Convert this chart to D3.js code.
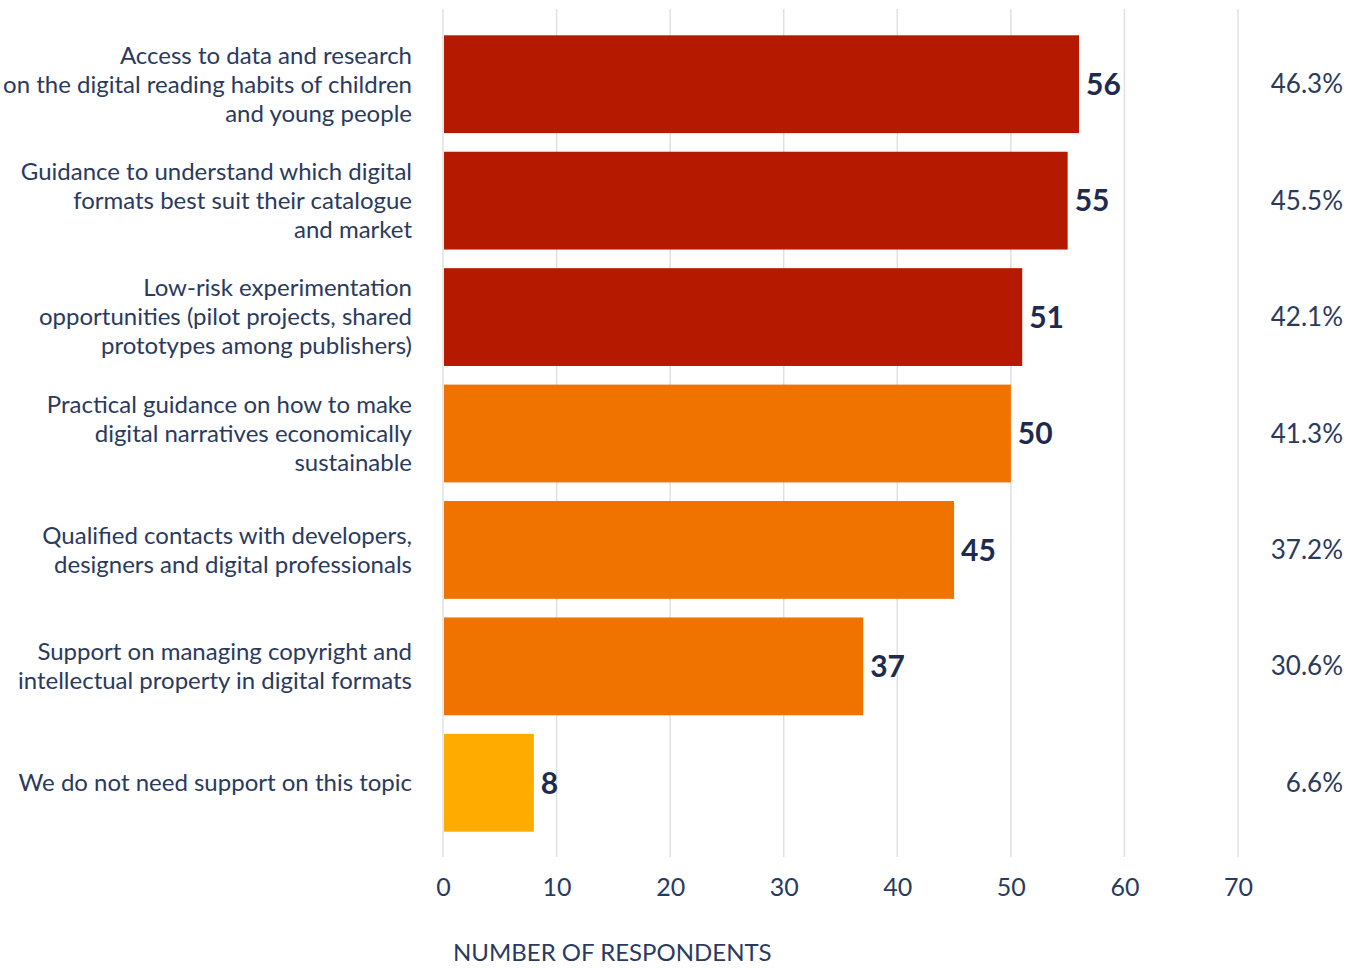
<!DOCTYPE html>
<html>
<head>
<meta charset="utf-8">
<script src="https://cdn.jsdelivr.net/npm/d3@7"></script>
<style>
  body { margin: 0; background: #fff; }
  svg text { font-family: Lato, "Open Sans", sans-serif; }
</style>
</head>
<body>
<svg id="chart" width="1361" height="968"></svg>
<script>
// categories, each as its wrapped lines
var categories = [
    ["Access to data and research", "on the digital reading habits of children", "and young people"],
    ["Guidance to understand which digital", "formats best suit their catalogue", "and market"],
    ["Low-risk experimentation", "opportunities (pilot projects, shared", "prototypes among publishers)"],
    ["Practical guidance on how to make", "digital narratives economically", "sustainable"],
    ["Qualified contacts with developers,", "designers and digital professionals"],
    ["Support on managing copyright and", "intellectual property in digital formats"],
    ["We do not need support on this topic"]
];
var respondents = [56, 55, 51, 50, 45, 37, 8];
var percents = ["46.3%", "45.5%", "42.1%", "41.3%", "37.2%", "30.6%", "6.6%"];
var groups = ["high", "high", "high", "mid", "mid", "mid", "none"];
var xTicks = [0, 10, 20, 30, 40, 50, 60, 70];
var axisTitle = "NUMBER OF RESPONDENTS";

var svg = d3.select("#chart");
var navy = "#2a3a5e";

var x = d3.scaleLinear().domain([0, 70]).range([443, 1238]);
var y = d3.scaleBand()
    .domain(d3.range(categories.length))
    .range([26, 841])
    .paddingInner(0.16)
    .paddingOuter(0.08);
var color = d3.scaleOrdinal()
    .domain(["high", "mid", "none"])
    .range(["#b51a00", "#f07300", "#ffab00"]);

// grid
svg.append("g")
    .selectAll("line")
    .data(xTicks)
    .join("line")
    .attr("x1", function (d) { return x(d); })
    .attr("x2", function (d) { return x(d); })
    .attr("y1", 9)
    .attr("y2", 857)
    .attr("stroke", "#e0e0e0")
    .attr("stroke-width", 1.5);

// axis tick labels
var axis = d3.axisBottom(x).tickValues(xTicks).tickSize(0).tickPadding(0);
var axisG = svg.append("g")
    .attr("transform", "translate(0,880)")
    .call(axis);
axisG.select(".domain").remove();
axisG.selectAll("text")
    .attr("dy", "0.32em")
    .attr("y", 8)
    .attr("fill", navy)
    .style("font-size", "25px")
    .style("font-family", "Lato, sans-serif");

svg.append("text")
    .attr("x", 453)
    .attr("y", 953)
    .attr("dy", "0.35em")
    .attr("fill", navy)
    .style("font-size", "24px")
    .text(axisTitle);

// bars
svg.append("g")
    .selectAll("rect")
    .data(respondents)
    .join("rect")
    .attr("x", x(0) + 1)
    .attr("y", function (d, i) { return y(i); })
    .attr("width", function (d) { return x(d) - x(0) - 1; })
    .attr("height", y.bandwidth())
    .attr("fill", function (d, i) { return color(groups[i]); });

// value labels
svg.append("g")
    .selectAll("text")
    .data(respondents)
    .join("text")
    .attr("x", function (d) { return x(d) + 7; })
    .attr("y", function (d, i) { return y(i) + y.bandwidth() / 2; })
    .attr("dy", "0.36em")
    .attr("fill", "#1e2b4f")
    .style("font-size", "30px")
    .style("font-weight", "bold")
    .text(function (d) { return d; });

// percent labels
svg.append("g")
    .selectAll("text")
    .data(percents)
    .join("text")
    .attr("x", 1343)
    .attr("y", function (d, i) { return y(i) + y.bandwidth() / 2; })
    .attr("dy", "0.35em")
    .attr("text-anchor", "end")
    .attr("fill", navy)
    .style("font-size", "26px")
    .text(function (d) { return d; });

// category labels
var lineH = 29;
svg.append("g")
    .selectAll("text")
    .data(categories)
    .join("text")
    .attr("text-anchor", "end")
    .attr("fill", navy)
    .style("font-size", "24px")
    .each(function (lines, i) {
        var cy = y(i) + y.bandwidth() / 2;
        var top = cy - (lines.length - 1) * lineH / 2;
        d3.select(this).selectAll("tspan")
            .data(lines)
            .join("tspan")
            .attr("x", 412)
            .attr("y", function (l, j) { return top + j * lineH; })
            .attr("dy", "0.35em")
            .text(function (l) { return l; });
    });
</script>
</body>
</html>
